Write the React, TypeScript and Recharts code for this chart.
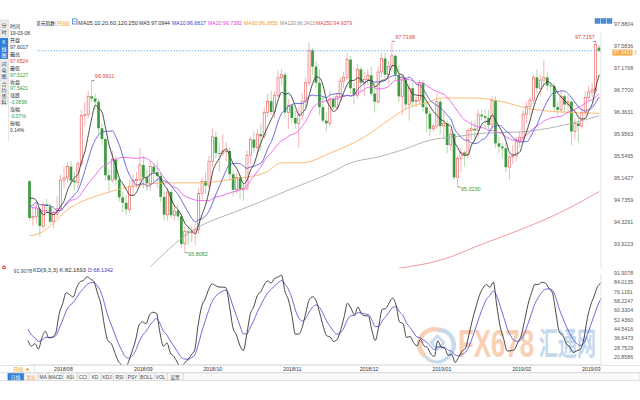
import React from 'react';
import { ComposedChart, Bar, Line, XAxis, YAxis, ReferenceLine, ReferenceDot } from 'recharts';

// ---------- data (US Dollar Index, daily, 2018-07-20 .. 2019-03-08) ----------
const historyCloses = [94.51, 94.28, 94.66, 95.03, 95.13, 94.6, 94.93, 94.6, 94.6, 94.23, 94.03, 94.04, 94.16, 94.73, 94.79, 94.72, 94.48, 94.9, 95.1, 95.14];

const opens = [
  95.13, 94.45, 94.48, 94.62, 94.30, 94.70, 94.66, 94.38,
  94.52, 94.62, 95.15, 95.19, 95.40, 95.14, 95.11, 95.45, 96.35, 96.36, 96.70, 96.66, 96.60, 96.11, 95.91, 95.24, 95.15, 95.53, 95.16, 94.83, 94.73, 94.61, 95.03,
  95.14, 95.16, 95.43, 95.20, 95.09, 95.40, 95.30, 95.23, 94.84, 94.51, 94.93, 94.50, 94.58, 94.48, 93.97, 94.20, 94.18, 94.19, 94.24, 94.90,
  95.13, 95.05, 95.50, 95.95, 95.65, 95.64, 95.69, 95.69, 95.26, 94.97, 95.20, 94.98, 95.00, 95.61, 95.90, 95.75, 96.00, 95.96, 96.40, 96.61, 96.41, 96.72, 97.04,
  97.10, 96.40, 96.53, 96.30, 96.20, 96.35, 96.61, 96.95, 97.55, 97.25, 96.95, 96.50, 96.25, 96.20, 96.65, 96.50, 96.70, 96.98, 97.05, 97.38, 96.85, 96.72,
  97.20, 96.95, 97.01, 97.09, 96.75, 96.60, 97.15, 97.40, 97.10, 97.25, 97.45, 97.10, 96.70, 97.00, 96.55, 96.85, 96.60, 96.62, 96.95, 96.50, 96.38,
  96.10, 96.15, 96.60, 96.15, 96.20, 95.80, 96.00, 95.20, 95.55, 95.66, 95.62, 96.07, 96.10, 96.07, 96.36, 96.33, 96.30, 96.17, 96.62, 95.83, 95.77, 95.74, 95.39,
  95.58, 95.60, 95.86, 95.94, 96.37, 96.51, 96.63, 97.05, 96.85, 97.00, 97.05, 96.90, 96.89, 96.50, 96.45, 96.70, 96.55, 96.60, 96.05, 96.20,
  96.15, 96.40, 96.68, 96.78, 96.80, 97.6017,
];
const highs = [
  95.15, 94.65, 94.72, 94.65, 94.75, 94.80, 94.72, 94.60,
  94.85, 95.25, 95.40, 95.48, 95.50, 95.30, 95.50, 96.45, 96.60, 96.80, 96.9911, 96.75, 96.65, 96.20, 95.95, 95.35, 95.70, 95.60, 95.20, 94.95, 94.88, 95.15, 95.25,
  95.30, 95.75, 95.60, 95.35, 95.50, 95.45, 95.50, 95.30, 94.95, 95.00, 94.97, 94.70, 94.70, 94.52, 94.30, 94.30, 94.30, 94.35, 95.00, 95.20,
  95.30, 95.60, 96.10, 96.05, 95.85, 96.00, 95.85, 95.75, 95.35, 95.30, 95.25, 95.10, 95.70, 95.95, 96.05, 96.10, 96.20, 96.50, 96.75, 96.80, 96.80, 97.18, 97.20,
  97.15, 96.65, 96.55, 96.45, 96.50, 96.75, 97.05, 97.69, 97.60, 97.35, 97.20, 96.70, 96.40, 96.80, 96.70, 96.75, 97.05, 97.15, 97.51, 97.45, 96.95, 97.30,
  97.25, 97.15, 97.20, 97.25, 96.95, 97.25, 97.50, 97.50, 97.35, 97.7168, 97.48, 97.28, 97.10, 97.05, 96.95, 96.95, 96.70, 97.00, 97.00, 96.60, 96.45,
  96.20, 96.75, 96.65, 96.40, 96.25, 96.10, 96.05, 95.60, 95.75, 95.70, 96.10, 96.25, 96.25, 96.45, 96.45, 96.45, 96.45, 96.70, 96.70, 95.95, 95.85, 95.85, 95.65,
  95.80, 95.95, 96.05, 96.45, 96.60, 96.70, 97.10, 97.20, 97.10, 97.37, 97.15, 96.95, 96.95, 96.60, 96.80, 96.75, 96.70, 96.62, 96.30, 96.35,
  96.50, 96.80, 96.90, 96.95, 97.7157, 97.6524,
];
const lows = [
  94.40, 94.30, 94.35, 94.10, 94.25, 94.55, 94.33, 94.26,
  94.45, 94.58, 95.00, 95.10, 95.05, 94.95, 95.00, 95.40, 96.15, 96.30, 96.58, 96.45, 96.00, 95.80, 95.15, 94.95, 95.10, 95.05, 94.75, 94.55, 94.50, 94.55, 94.85,
  95.00, 95.10, 95.00, 94.95, 94.95, 95.10, 95.00, 94.75, 94.40, 94.40, 94.45, 94.40, 94.40, 93.90, 93.8082, 93.95, 94.00, 93.96, 94.15, 94.80,
  94.90, 95.00, 95.40, 95.55, 95.30, 95.60, 95.50, 95.15, 94.85, 94.90, 94.80, 94.77, 94.95, 95.45, 95.65, 95.60, 95.70, 95.90, 96.30, 96.35, 96.30, 96.65, 96.90,
  96.30, 96.10, 96.20, 96.10, 95.75, 96.25, 96.50, 96.90, 97.10, 96.85, 96.35, 96.20, 96.05, 96.15, 96.45, 96.45, 96.60, 96.85, 97.00, 96.75, 96.55, 96.65,
  96.80, 96.70, 96.90, 96.70, 96.40, 96.55, 97.05, 97.00, 96.95, 97.15, 97.00, 96.60, 96.35, 96.45, 96.25, 96.50, 96.50, 96.55, 96.40, 96.05, 95.95,
  96.05, 96.10, 96.00, 95.90, 95.65, 95.70, 95.15, 95.023, 95.30, 95.40, 95.55, 95.90, 95.85, 95.95, 96.25, 96.10, 96.05, 96.10, 95.75, 95.65, 95.55, 95.30, 95.15,
  95.45, 95.50, 95.75, 95.85, 96.20, 96.35, 96.55, 96.75, 96.70, 96.90, 96.80, 96.75, 96.40, 96.35, 96.40, 96.40, 96.40, 95.80, 95.90, 95.85,
  96.10, 96.35, 96.60, 96.70, 96.75, 97.5127,
];
const closes = [
  94.45, 94.48, 94.62, 94.30, 94.70, 94.67, 94.38, 94.52,
  94.62, 95.15, 95.19, 95.40, 95.14, 95.11, 95.45, 96.35, 96.36, 96.70, 96.66, 96.60, 96.11, 95.91, 95.24, 95.15, 95.53, 95.16, 94.83, 94.73, 94.61, 95.03, 95.14,
  95.16, 95.43, 95.20, 95.09, 95.40, 95.30, 95.23, 94.84, 94.51, 94.93, 94.50, 94.58, 94.48, 93.97, 94.20, 94.18, 94.19, 94.24, 94.90, 95.13,
  95.05, 95.50, 95.95, 95.65, 95.64, 95.69, 95.69, 95.26, 94.97, 95.20, 94.98, 95.00, 95.61, 95.90, 95.75, 96.00, 95.96, 96.40, 96.61, 96.41, 96.72, 97.04, 97.10,
  96.40, 96.53, 96.30, 96.20, 96.35, 96.61, 96.95, 97.55, 97.25, 96.95, 96.50, 96.25, 96.20, 96.65, 96.50, 96.70, 96.98, 97.05, 97.38, 96.85, 96.72, 97.20,
  96.95, 97.01, 97.09, 96.75, 96.60, 97.15, 97.40, 97.10, 97.25, 97.45, 97.10, 96.70, 97.00, 96.55, 96.85, 96.60, 96.62, 96.95, 96.50, 96.38, 96.10,
  96.15, 96.60, 96.15, 96.20, 95.80, 96.00, 95.20, 95.55, 95.66, 95.62, 96.07, 96.10, 96.07, 96.36, 96.33, 96.30, 96.17, 96.62, 95.83, 95.77, 95.74, 95.39, 95.58,
  95.60, 95.86, 95.94, 96.37, 96.51, 96.63, 97.05, 96.85, 97.00, 97.05, 96.90, 96.89, 96.50, 96.45, 96.70, 96.55, 96.60, 96.05, 96.20, 96.15,
  96.40, 96.68, 96.78, 96.82, 97.66, 97.5421,
];

// long moving averages at a few candles (index, value)
const ma60Points: [number, number][] = [[0, 94.12], [3, 94.17], [12, 94.65], [22, 94.91], [32, 95.06], [42, 95.1], [49, 95.1], [61, 95.19], [68, 95.28], [73, 95.47], [79, 95.47], [87, 95.65], [97, 95.95], [104, 96.26], [110, 96.5], [116, 96.6], [119, 96.67], [128, 96.67], [137, 96.6], [144, 96.48], [154, 96.41], [165, 96.385]];
const ma120Points: [number, number][] = [[35, 93.55], [46, 94.17], [61, 94.6], [68, 94.78], [77, 95.02], [87, 95.28], [93, 95.47], [101, 95.58], [108, 95.71], [116, 95.89], [123, 95.95], [132, 96.02], [142, 96.04], [152, 96.13], [165, 96.3413]];
const ma250Points: [number, number][] = [[107, 93.52], [119, 93.67], [132, 93.99], [142, 94.23], [152, 94.5], [165, 94.9379]];

const priceTicks = [97.5836, 97.1768, 96.77, 96.3631, 95.9563, 95.5495, 95.1427, 94.7359, 94.3291, 93.9223];
const kdTicks = [91.9078, 84.0135, 76.1191, 68.2247, 60.3304, 52.436, 44.5416, 36.6473, 28.7529, 20.8586];
const monthStarts: [number, string][] = [[8, '2018/08'], [31, '2018/09'], [51, '2018/10'], [74, '2018/11'], [96, '2018/12'], [117, '2019/01'], [140, '2019/02'], [160, '2019/03']];
const extremes = [
  { i: 18, hi: true, left: false },
  { i: 45, hi: false, left: false },
  { i: 105, hi: true, left: false },
  { i: 124, hi: false, left: false },
  { i: 164, hi: true, left: true },
];
const headerItems: [string, string, number, number][] = [
  ['MA05,10,20,60,120,250', '#333', 78, 60],
  ['MA5:97.0944', '#333', 139, 31],
  ['MA10:96.6817', '#3b3bc8', 172, 34],
  ['MA20:96.7382', '#e23de2', 208, 34],
  ['MA60:96.3850', '#f59a2c', 244, 34],
  ['MA120:96.3413', '#8c8c8c', 280, 35],
  ['MA250:94.9379', '#e04848', 316, 36],
];
const infoLines: [string, string][] = [
  ['时间', '#333'], ['19-03-08', '#333'], ['开盘', '#333'], ['97.6017', '#333'],
  ['最高', '#333'], ['97.6524', '#e03c3c'], ['最低', '#333'], ['97.5127', '#2f9a2f'],
  ['收盘', '#333'], ['97.5421', '#2f9a2f'], ['涨跌', '#333'], ['-0.0696', '#2f9a2f'],
  ['涨幅', '#333'], ['-0.07%', '#2f9a2f'], ['振幅', '#333'], ['0.14%', '#333'],
];
const toolButtons: [string, number, number][] = [
  ['日线', 7, 24], ['复权', 24, 38], ['MA', 38, 48], ['MACD', 48, 63], ['ASI', 63, 77], ['CCI', 77, 89], ['KD', 89, 101],
  ['KDJ', 101, 113], ['RSI', 113, 126], ['PSY', 126, 139], ['BOLL', 139, 154], ['VOL', 154, 167], ['设置', 167, 183],
];

// ---------- derived rows ----------
const H = historyCloses.length;
const allCloses = [...historyCloses, ...closes];
const sma = (n: number, i: number) => {
  let s = 0;
  for (let j = H + i - n + 1; j <= H + i; j++) s += allCloses[j];
  return s / n;
};
const m60 = new Map(ma60Points);
const m120 = new Map(ma120Points);
const m250 = new Map(ma250Points);
const kdVals = (() => {
  let k = 50;
  let d = 50;
  return closes.map((c, i) => {
    const s = Math.max(0, i - 8);
    const hh = Math.max(...highs.slice(s, i + 1));
    const ll = Math.min(...lows.slice(s, i + 1));
    const rsv = hh === ll ? 50 : ((c - ll) / (hh - ll)) * 100;
    k = (2 * k + rsv) / 3;
    d = (2 * d + k) / 3;
    return { k, d };
  });
})();
const rows = closes.map((c, i) => ({
  i,
  o: opens[i],
  h: highs[i],
  l: lows[i],
  c,
  range: [lows[i], highs[i]],
  ma5: sma(5, i),
  ma10: sma(10, i),
  ma20: sma(20, i),
  ma60: m60.has(i) ? m60.get(i) : null,
  ma120: m120.has(i) ? m120.get(i) : null,
  ma250: m250.has(i) ? m250.get(i) : null,
  k: kdVals[i].k,
  d: kdVals[i].d,
}));
const monthMap = new Map(monthStarts);

const UP = '#ec6a6a';
const UPW = '#f2a2a2';
const DN = '#3e9a3e';
const DNW = '#9fd096';
const FONT = 'Liberation Sans, Noto Sans CJK SC, sans-serif';

function Candle(props: any) {
  const { x, y, width, height, payload } = props;
  if (x == null || !payload) return <g />;
  const { o, h, l, c } = payload;
  const top = Math.min(y, y + height);
  const hh = Math.abs(height);
  const span = h - l;
  const py = (p: number) => (span > 0 ? top + ((h - p) / span) * hh : top);
  const cx = x + width / 2;
  const up = c >= o;
  const bt = py(Math.max(o, c));
  const bb = py(Math.min(o, c));
  const bh = Math.max(bb - bt, 0.8);
  return (
    <g>
      <line x1={cx} x2={cx} y1={top} y2={top + hh} stroke={up ? UPW : DNW} strokeWidth={0.8} />
      {up ? (
        <rect x={cx - 1.05} y={bt} width={2.1} height={bh} fill="#fff" stroke={UP} strokeWidth={0.7} />
      ) : (
        <rect x={cx - 1.35} y={bt} width={2.7} height={bh} fill={DN} />
      )}
    </g>
  );
}

const PriceTick = (p: any) => (
  <text x={p.x} y={p.y - 2.5} dy="0.35em" fontSize={5.3} fill="#555" fontFamily={FONT}>
    {Number(p.payload.value).toFixed(4)}
  </text>
);
const KdTick = (p: any) => (
  <text x={p.x} y={p.y - 1} dy="0.35em" fontSize={5.3} fill="#555" fontFamily={FONT}>
    {Number(p.payload.value).toFixed(4)}
  </text>
);
const MonthTick = (p: any) => {
  const lab = monthMap.get(p.payload.value);
  if (!lab) return <g />;
  return (
    <text x={p.x - 1.7} y={p.y} dy="0.71em" fontSize={5.2} fill="#333" fontFamily={FONT}>
      {lab}
    </text>
  );
};

const lineProps = { dot: false, isAnimationActive: false, strokeWidth: 0.9, activeDot: false } as any;

export default function App() {
  return (
    <div style={{ position: 'absolute', left: 0, top: 0, width: 640, height: 400, background: '#fff', overflow: 'hidden', fontFamily: FONT }}>
      {/* watermark behind the charts */}
      <svg width={640} height={400} style={{ position: 'absolute', left: 0, top: 0, pointerEvents: 'none' }}>
        <g opacity={0.5}>
          <path d="M 425 356 A 15 15 0 0 1 439 330" fill="none" stroke="#f2a36e" strokeWidth={4.5} />
          <path d="M 439 330 A 15 15 0 0 1 449 356" fill="none" stroke="#8fb6df" strokeWidth={4.5} />
          <path d="M 449 356 A 15 15 0 0 1 425 356" fill="none" stroke="#8fb6df" strokeWidth={3} />
          <rect x={433} y={338} width={9} height={9} fill="none" stroke="#8fb6df" strokeWidth={2.6} transform="rotate(45 437.5 342.5)" />
          <g transform="translate(458 357) scale(1.29 1.92)">
            <text x={0} y={0} fontSize={20} fontWeight="bold" fill="#f4a36a" fontFamily="Liberation Sans">FX678</text>
          </g>
          <g transform="translate(539 355) scale(0.95 1.6)">
            <text x={0} y={0} fontSize={20} fontWeight="bold" fill="#8db4de" fontFamily="Noto Sans CJK SC">汇通网</text>
          </g>
        </g>
      </svg>

      <div style={{ position: 'absolute', left: 0, top: 0 }}>
        <ComposedChart width={640} height={272} data={rows} margin={{ top: 32.5, right: 0, bottom: 3.5, left: 28 }} barCategoryGap={0} barGap={0}>
          <XAxis dataKey="i" hide />
          <YAxis
            orientation="right"
            width={39}
            domain={[93.5155, 97.8804]}
            allowDataOverflow
            ticks={priceTicks}
            interval={0}
            tick={PriceTick}
            tickLine={false}
            tickSize={0}
            tickMargin={13}
            axisLine={{ stroke: '#e2e2e2' }}
          />
          <ReferenceLine y={closes[closes.length - 1]} stroke="#4f9cf0" strokeDasharray="1.5 1.5" strokeWidth={0.8} />
          <Bar dataKey="range" shape={Candle} isAnimationActive={false} />
          <Line dataKey="ma250" stroke="#f08c8c" connectNulls type="monotone" {...lineProps} />
          <Line dataKey="ma120" stroke="#adadad" connectNulls type="monotone" {...lineProps} />
          <Line dataKey="ma60" stroke="#ffb266" connectNulls type="monotone" {...lineProps} />
          <Line dataKey="ma20" stroke="#f25cf2" type="monotone" {...lineProps} />
          <Line dataKey="ma10" stroke="#5b5bd2" type="monotone" {...lineProps} />
          <Line dataKey="ma5" stroke="#3a3a3a" type="monotone" {...lineProps} />
          {extremes.map((e) => {
            const v = e.hi ? highs[e.i] : lows[e.i];
            return (
              <ReferenceDot
                key={e.i}
                x={e.i}
                y={v}
                r={0}
                isFront
                shape={(p: any) => (
                  <g>
                    <line x1={p.cx} x2={p.cx + (e.left ? -2.5 : 2.5)} y1={p.cy} y2={p.cy} stroke="#555" strokeWidth={0.7} />
                    <text
                      x={e.left ? p.cx - 1 : p.cx + 3}
                      y={e.hi ? p.cy - 2.5 : p.cy + 3.8}
                      fontSize={5.5}
                      fill={e.hi ? '#e04646' : '#3a9a3a'}
                      textAnchor={e.left ? 'end' : 'start'}
                      fontFamily={FONT}
                    >
                      {v.toFixed(4)}
                    </text>
                  </g>
                )}
              />
            );
          })}
        </ComposedChart>
      </div>
      <div style={{ position: 'absolute', left: 0, top: 260 }}>
        <ComposedChart width={640} height={121} data={rows} margin={{ top: 14, right: 0, bottom: 0, left: 28 }}>
          <XAxis dataKey="i" height={16} interval={0} tick={MonthTick} tickLine={false} tickSize={0} tickMargin={2} axisLine={{ stroke: '#d0d0d0' }} />
          <YAxis
            orientation="right"
            width={39}
            domain={[14.92, 91.9078]}
            allowDataOverflow
            ticks={kdTicks}
            interval={0}
            tick={KdTick}
            tickLine={false}
            tickSize={0}
            tickMargin={13}
            axisLine={{ stroke: '#e2e2e2' }}
          />
          <Line dataKey="d" stroke="#5a5ad6" type="monotone" {...lineProps} />
          <Line dataKey="k" stroke="#333" type="monotone" {...lineProps} />
        </ComposedChart>
      </div>

      <svg width={640} height={400} style={{ position: 'absolute', left: 0, top: 0, pointerEvents: 'none' }} fontFamily={FONT}>
        {/* header */}
        <text x={36} y={24.5} fontSize={5} fill="#222" textLength={19} lengthAdjust="spacingAndGlyphs">美元指数</text>
        <text x={55} y={24.5} fontSize={5} fill="#f0a030" textLength={15} lengthAdjust="spacingAndGlyphs">(日线)</text>
        <rect x={72.5} y={19} width={4.5} height={5} fill="#fff" stroke="#3d7fd6" strokeWidth={0.8} />
        <line x1={73.5} x2={76} y1={21.5} y2={21.5} stroke="#3d7fd6" strokeWidth={0.6} />
        {headerItems.map(([t, col, x, w]) => (
          <text key={t} x={x} y={24.5} fontSize={5} fill={col} textLength={w} lengthAdjust="spacingAndGlyphs">{t}</text>
        ))}
        {/* top right */}
        {[595, 601, 607].map((x) => (
          <rect key={x} x={x} y={18.5} width={5} height={5} fill="#4b8fdc" stroke="#2f6fb8" strokeWidth={0.4} />
        ))}
        <text x={614} y={26} fontSize={5.3} fill="#555">97.8804</text>

        {/* left vertical tabs */}
        <rect x={0} y={20} width={8} height={17} fill="#efefef" stroke="#cfcfcf" strokeWidth={0.5} />
        <rect x={0} y={38} width={8} height={21} fill="#2f7fd8" />
        <rect x={0} y={60} width={8} height={19} fill="#efefef" stroke="#cfcfcf" strokeWidth={0.5} />
        <rect x={0} y={80} width={8} height={24} fill="#efefef" stroke="#cfcfcf" strokeWidth={0.5} />
        {[['分', 27], ['时', 33.5]].map(([c, y]) => (
          <text key={'a' + c} x={4} y={y as number} fontSize={5} fill="#444" textAnchor="middle">{c}</text>
        ))}
        {[['K', 44], ['线', 50.5], ['图', 57]].map(([c, y]) => (
          <text key={'b' + c} x={4} y={y as number} fontSize={5} fill="#fff" textAnchor="middle">{c}</text>
        ))}
        {[['闪', 66], ['电', 72], ['图', 78]].map(([c, y]) => (
          <text key={'c' + c} x={4} y={y as number} fontSize={5} fill="#444" textAnchor="middle">{c}</text>
        ))}
        {[['合', 86], ['约', 92], ['资', 98], ['料', 104]].map(([c, y]) => (
          <text key={'d' + c} x={4} y={y as number} fontSize={5} fill="#444" textAnchor="middle">{c}</text>
        ))}

        {/* info panel */}
        <rect x={8.5} y={21} width={28} height={120} fill="#fff" />
        <line x1={8.5} x2={8.5} y1={20} y2={142} stroke="#d5d5d5" strokeWidth={0.6} />
        {infoLines.map(([t, col], k) => (
          <text key={k} x={10} y={28.2 + k * 6.92} fontSize={5} fill={col}>{t}</text>
        ))}

        {/* right current price box */}
        <rect x={612.5} y={49.5} width={20} height={6} fill="#f7a33a" />
        <text x={614} y={54.4} fontSize={5} fill="#fff">97.5421</text>
        <text x={634} y={54} fontSize={6} fill="#f0a030">‡</text>

        {/* KD header */}
        <circle cx={4} cy={267.5} r={2} fill="#e05050" />
        <circle cx={4} cy={267.5} r={0.8} fill="#fff" />
        <text x={13.5} y={272.5} fontSize={5.2} fill="#555">91.9078</text>
        <text x={33} y={271.5} fontSize={5} fill="#333" textLength={53} lengthAdjust="spacingAndGlyphs">KD(9,3,3) K:82.1693</text>
        <text x={88} y={271.5} fontSize={5} fill="#3b3bc8" textLength={25} lengthAdjust="spacingAndGlyphs">D:68.1342</text>

        {/* date row + toolbar */}
        <line x1={0} x2={28} y1={365.5} y2={365.5} stroke="#d0d0d0" strokeWidth={0.6} />
        <line x1={601} x2={640} y1={365.5} y2={365.5} stroke="#d0d0d0" strokeWidth={0.6} />
        <line x1={0} x2={640} y1={372.5} y2={372.5} stroke="#d0d0d0" strokeWidth={0.6} />
        <line x1={0} x2={640} y1={380.5} y2={380.5} stroke="#d0d0d0" strokeWidth={0.6} />
        <line x1={34.5} x2={34.5} y1={365.5} y2={372.5} stroke="#d0d0d0" strokeWidth={0.6} />
        <text x={13} y={371} fontSize={5} fill="#f0a030">日线</text>
        <path d="M25.5 370.5 L27.5 367.3 L29.5 370.5 Z" fill="#f0a030" />
        {toolButtons.map(([t, x0, x1], k) => (
          <g key={t}>
            <rect x={x0 + 0.5} y={373} width={x1 - x0 - 0.5} height={7.5} fill={k === 0 ? '#2f7fd8' : '#f8f8f8'} stroke="#cdcdcd" strokeWidth={0.5} />
            <text x={(x0 + x1) / 2} y={378.7} fontSize={4.8} textAnchor="middle" fill={k === 0 ? '#fff' : k === 1 ? '#f0a030' : '#444'}>{t}</text>
          </g>
        ))}
        <rect x={183.5} y={373} width={456} height={7.5} fill="#fafafa" stroke="#d5d5d5" strokeWidth={0.5} />
      </svg>
    </div>
  );
}
